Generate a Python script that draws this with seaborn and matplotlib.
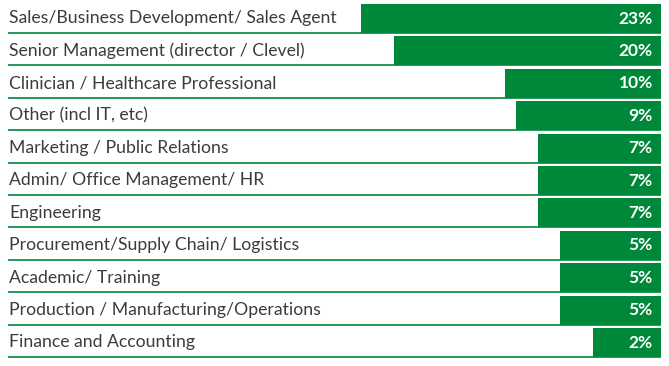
import matplotlib
matplotlib.use("Agg")
import matplotlib.pyplot as plt
import seaborn as sns
import numpy as np
import pandas as pd

roles = [
    "Sales/Business Development/ Sales Agent",
    "Senior Management (director / Clevel)",
    "Clinician / Healthcare Professional",
    "Other (incl IT, etc)",
    "Marketing / Public Relations",
    "Admin/ Office Management/ HR",
    "Engineering",
    "Procurement/Supply Chain/ Logistics",
    "Academic/ Training",
    "Production / Manufacturing/Operations",
    "Finance and Accounting",
]
shares = [23, 20, 10, 9, 7, 7, 7, 5, 5, 5, 2]

green = "#00883a"
label_pad = 4.1  # room for the % label on every bar

sns.set_theme(style="white")
plt.rcParams["font.family"] = ["Lato", "DejaVu Sans"]

df = pd.DataFrame({"role": roles, "share": shares})
df["bar"] = df["share"] + label_pad

fig = plt.figure(figsize=(6.69, 3.66), dpi=100)
ax = fig.add_axes([8 / 669, 7.3 / 366, 653 / 669, 356.4 / 366])

sns.barplot(data=df, x="bar", y="role", orient="h", color=green,
            saturation=1, width=0.9, linewidth=0, ax=ax, zorder=2)

n = len(roles)
ax.set_xlim(59, 0)
ax.set_ylim(n - 0.5, -0.5)

ax.hlines(np.arange(n) + 0.45, 0, 59, color=green, lw=1.2, zorder=1)

for i, (role, v) in enumerate(zip(roles, shares)):
    ax.text(0.002, i, role, transform=ax.get_yaxis_transform(),
            ha="left", va="center", fontsize=12.7, color="#3c3c3c")
    ax.annotate(f"{v}%", xy=(0, i), xytext=(-6, 0), textcoords="offset points",
                ha="right", va="center", fontsize=12.5, fontweight="bold",
                color="white", zorder=3)

ax.set_xlabel("")
ax.set_ylabel("")
ax.set_xticks([])
ax.set_yticks([])
sns.despine(ax=ax, left=True, bottom=True)

fig.savefig("out.png", dpi=100)
